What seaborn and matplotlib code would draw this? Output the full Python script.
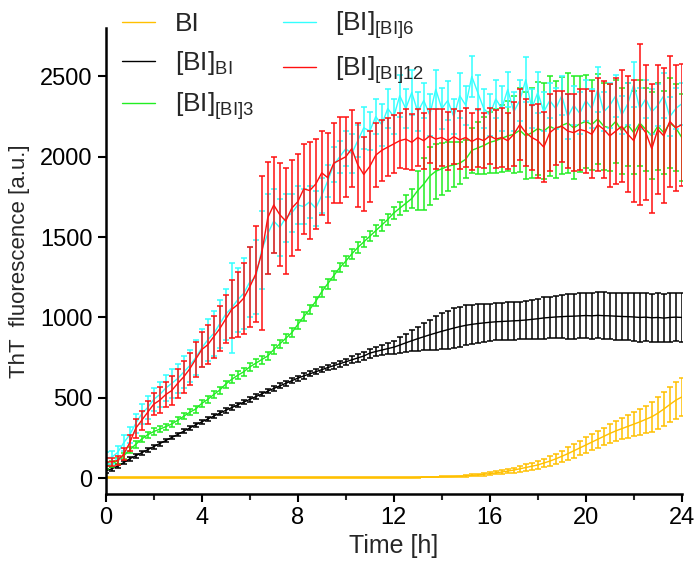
import numpy as np
import pandas as pd
import matplotlib
matplotlib.use("Agg")
import matplotlib.pyplot as plt
import seaborn as sns

# sampling times [h], every 15 min
time_h = [0, 0.25, 0.5, 0.75, 1, 1.25, 1.5, 1.75, 2, 2.25, 2.5, 2.75,
          3, 3.25, 3.5, 3.75, 4, 4.25, 4.5, 4.75, 5, 5.25, 5.5, 5.75,
          6, 6.25, 6.5, 6.75, 7, 7.25, 7.5, 7.75, 8, 8.25, 8.5, 8.75,
          9, 9.25, 9.5, 9.75, 10, 10.25, 10.5, 10.75, 11, 11.25, 11.5, 11.75,
          12, 12.25, 12.5, 12.75, 13, 13.25, 13.5, 13.75, 14, 14.25, 14.5, 14.75,
          15, 15.25, 15.5, 15.75, 16, 16.25, 16.5, 16.75, 17, 17.25, 17.5, 17.75,
          18, 18.25, 18.5, 18.75, 19, 19.25, 19.5, 19.75, 20, 20.25, 20.5, 20.75,
          21, 21.25, 21.5, 21.75, 22, 22.25, 22.5, 22.75, 23, 23.25, 23.5, 23.75,
          24]

bi_mean = [4, 4, 4, 4, 4, 4, 4, 4, 4, 4, 4, 4,
           4, 4, 4, 4, 4, 4, 4, 4, 4, 4, 4, 4,
           4, 4, 4, 4, 4, 4, 4, 4, 4, 4, 4, 4,
           4, 4, 4, 4, 4, 4, 4, 4, 4, 4, 4, 4,
           4, 4, 4, 4, 5, 6, 6, 7, 8, 9, 10, 12,
           14, 17, 20, 24, 28, 33, 38, 44, 50, 58, 66, 74,
           82, 94, 106, 120, 136, 152, 170, 188, 206, 224, 242, 260,
           278, 294, 308, 322, 336, 350, 366, 382, 404, 430, 458, 485,
           505]
bi_err = [2, 2, 2, 2, 2, 2, 2, 2, 2, 2, 2, 2,
          2, 2, 2, 2, 2, 2, 2, 2, 2, 2, 2, 2,
          2, 2, 2, 2, 2, 2, 2, 2, 2, 2, 2, 2,
          2, 2, 2, 2, 2, 2, 2, 2, 2, 2, 2, 2,
          2, 2, 2, 2, 2, 2, 2, 2, 3, 3, 4, 4,
          5, 6, 7, 8, 9, 10, 12, 14, 16, 18, 20, 22,
          24, 27, 30, 33, 36, 39, 42, 45, 48, 50, 52, 55,
          58, 62, 66, 70, 75, 80, 86, 92, 98, 104, 110, 115,
          118]

bb_mean = [45, 58, 75, 97, 120, 139, 158, 177, 196, 215, 234, 253,
           272, 292, 312, 332, 350, 368, 386, 404, 422, 439, 456, 473,
           490, 507, 524, 541, 558, 574, 590, 606, 622, 636, 649, 662,
           675, 688, 700, 712, 724, 736, 748, 760, 778, 788, 797, 806,
           815, 828, 842, 855, 868, 880, 892, 903, 914, 924, 934, 943,
           951, 957, 962, 966, 970, 973, 975, 977, 979, 981, 984, 988,
           992, 997, 1000, 1003, 1005, 1007, 1008, 1010, 1012, 1010, 1013, 1011,
           1010, 1008, 1006, 1005, 1003, 1000, 1002, 998, 1000, 996, 1000, 1002,
           1000]
bb_err = [12, 12, 12, 12, 12, 12, 12, 12, 12, 12, 12, 12,
          12, 12, 12, 12, 14, 14, 14, 14, 14, 14, 14, 14,
          14, 14, 14, 14, 15, 15, 15, 15, 16, 16, 16, 16,
          17, 17, 18, 18, 20, 22, 24, 26, 28, 30, 33, 36,
          40, 48, 56, 64, 75, 85, 95, 105, 112, 118, 122, 125,
          125, 122, 120, 118, 115, 115, 116, 118, 118, 118, 120, 122,
          125, 128, 130, 132, 135, 138, 140, 140, 142, 142, 143, 145,
          145, 147, 148, 148, 150, 150, 148, 150, 150, 150, 152, 150,
          150]

g3_mean = [75, 88, 108, 139, 175, 210, 243, 270, 290, 305, 320, 337,
           360, 385, 410, 430, 465, 490, 520, 548, 585, 615, 640, 662,
           692, 715, 738, 760, 800, 835, 870, 905, 955, 1005, 1050, 1100,
           1160, 1210, 1260, 1310, 1350, 1395, 1435, 1470, 1505, 1540, 1575, 1610,
           1650, 1680, 1710, 1740, 1790, 1830, 1880, 1910, 1925, 1940, 1950, 1960,
           1985, 2040, 2055, 2070, 2090, 2100, 2115, 2130, 2140, 2165, 2130, 2150,
           2175, 2160, 2190, 2170, 2195, 2210, 2180, 2205, 2220, 2200, 2235, 2190,
           2180, 2220, 2160, 2200, 2150, 2210, 2170, 2130, 2190, 2150, 2210, 2180,
           2120]
g3_err = [18, 18, 18, 20, 20, 20, 20, 20, 20, 20, 20, 20,
          20, 20, 20, 22, 22, 22, 22, 22, 22, 24, 24, 24,
          24, 25, 25, 26, 26, 27, 28, 28, 28, 28, 30, 30,
          30, 30, 30, 30, 30, 32, 32, 32, 32, 34, 34, 35,
          35, 40, 50, 60, 120, 160, 180, 170, 160, 150, 140, 130,
          120, 140, 160, 180, 190, 200, 210, 220, 240, 260, 270, 280,
          290, 300, 310, 300, 300, 310, 320, 300, 290, 280, 280, 270,
          270, 260, 270, 260, 260, 270, 260, 270, 270, 260, 280, 270,
          270]

c6_mean = [125, 130, 160, 220, 270, 340, 400, 440, 490, 520, 560, 590,
           620, 660, 700, 750, 810, 860, 900, 960, 1020, 1060, 1110, 1150,
           1220, 1250, 1420, 1520, 1600, 1560, 1620, 1650, 1700, 1690, 1720, 1680,
           1760, 1850, 1950, 2000, 2050, 2020, 2100, 2180, 2160, 2250, 2200, 2300,
           2250, 2380, 2300, 2400, 2280, 2350, 2260, 2420, 2300, 2350, 2250, 2380,
           2320, 2500, 2400, 2300, 2260, 2360, 2300, 2420, 2280, 2350, 2480, 2300,
           2400, 2280, 2350, 2300, 2380, 2250, 2320, 2270, 2350, 2300, 2420, 2280,
           2320, 2380, 2260, 2330, 2450, 2300, 2360, 2280, 2320, 2380, 2250, 2300,
           2330]
c6_err = [40, 40, 40, 50, 50, 60, 60, 70, 70, 80, 80, 90,
          90, 100, 100, 110, 120, 130, 140, 150, 160, 280, 200, 220,
          220, 230, 240, 250, 200, 180, 150, 120, 120, 110, 100, 110,
          110, 100, 110, 100, 110, 120, 100, 130, 120, 110, 130, 120,
          110, 130, 120, 140, 120, 110, 130, 120, 130, 120, 110, 140,
          120, 130, 110, 120, 130, 120, 140, 110, 120, 130, 140, 120,
          130, 120, 110, 130, 120, 140, 120, 130, 130, 120, 140, 120,
          140, 130, 120, 130, 140, 130, 120, 140, 130, 140, 120, 130,
          130]

r12_mean = [100, 102, 110, 150, 220, 310, 360, 410, 460, 485, 520, 545,
            590, 630, 680, 740, 800, 830, 880, 930, 990, 1050, 1080, 1120,
            1190, 1270, 1400, 1620, 1700, 1640, 1600, 1680, 1720, 1800, 1790, 1830,
            1900, 1870, 1960, 1980, 2000, 2050, 1950, 1890, 1940, 2010, 2040, 2060,
            2080, 2100, 2110, 2090, 2120, 2100, 2130, 2110, 2120, 2100, 2125, 2105,
            2120, 2095, 2115, 2100, 2130, 2110, 2120, 2100, 2140, 2200, 2150, 2120,
            2100, 2060, 2150, 2180, 2190, 2160, 2150, 2170, 2160, 2140, 2200, 2170,
            2130, 2160, 2190, 2140, 2100, 2200, 2150, 2050, 2170, 2130, 2220, 2180,
            2200]
r12_err = [25, 25, 30, 40, 50, 60, 60, 70, 70, 80, 80, 90,
           90, 100, 100, 110, 110, 120, 130, 140, 150, 180, 200, 220,
           250, 300, 480, 350, 300, 320, 330, 300, 300, 280, 300, 280,
           260, 280, 250, 270, 250, 240, 260, 230, 220, 200, 190, 180,
           180, 170, 185, 175, 180, 175, 170, 185, 175, 180, 170, 180,
           185, 175, 180, 170, 175, 180, 185, 175, 200, 220, 210, 200,
           230, 220, 240, 230, 220, 230, 240, 250, 260, 270, 290, 300,
           320, 330, 350, 360, 380, 500, 420, 400, 400, 420, 410, 390,
           380]

labels = ["BI", "[BI]$_{BI}$", "[BI]$_{[BI]3}$", "[BI]$_{[BI]6}$", "[BI]$_{[BI]12}$"]
colors = ["#FFC000", "#000000", "#22EE22", "#33FFFF", "#FF1010"]
means = [bi_mean, bb_mean, g3_mean, c6_mean, r12_mean]
errs = [bi_err, bb_err, g3_err, c6_err, r12_err]

sns.set_style("ticks")
plt.rcParams["font.family"] = ["Liberation Sans", "DejaVu Sans"]
plt.rcParams["mathtext.default"] = "regular"

fig, ax = plt.subplots(figsize=(7, 5.76), dpi=100)
fig.subplots_adjust(left=0.151, right=0.974, top=0.951, bottom=0.142)

for lab, col, m, e in zip(labels, colors, means, errs):
    ax.errorbar(time_h, m, yerr=e, fmt="none", ecolor=col, elinewidth=1.1,
                capsize=2.5, capthick=1.1)
    sns.lineplot(x=time_h, y=m, color=col, lw=1.0, ax=ax, label=lab)

ax.set_xlim(0, 24)
ax.set_ylim(-100, 2800)
ax.set_xticks([0, 4, 8, 12, 16, 20, 24])
ax.set_xticks([2, 6, 10, 14, 18, 22], minor=True)
ax.set_yticks([0, 500, 1000, 1500, 2000, 2500])
ax.tick_params(axis="both", which="major", direction="out", length=6, width=1.5,
               labelsize=17, colors="black")
ax.tick_params(axis="x", which="minor", direction="out", length=4, width=1.5)
sns.despine(ax=ax)
for s in ["left", "bottom"]:
    ax.spines[s].set_linewidth(1.8)
    ax.spines[s].set_color("black")

ax.set_xlabel("Time [h]", fontsize=18, labelpad=3)
ax.set_ylabel("ThT  fluorescence [a.u.]", fontsize=16, labelpad=7)

ax.get_legend().remove()
handles, labs = ax.get_legend_handles_labels()
fig.legend(handles, labs, ncol=2, loc="upper left", bbox_to_anchor=(0.14, 1.025),
           frameon=False, prop={"size": 19},
           handlelength=1.25, handletextpad=0.75, columnspacing=1.1, labelspacing=0.5)

fig.savefig("out.png", dpi=100)
